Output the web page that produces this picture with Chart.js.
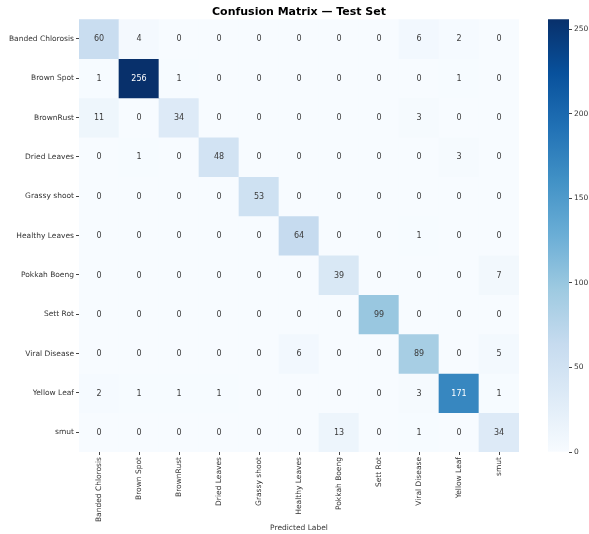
<!DOCTYPE html>
<html><head><meta charset="utf-8">
<script src="https://cdn.jsdelivr.net/npm/chart.js@4/dist/chart.umd.min.js"></script>
<style>
html,body{margin:0;padding:0;background:#fff}
#wrap{position:relative;width:589px;height:534px}
canvas{position:absolute;top:0}
</style>
</head><body>
<div id="wrap">
<canvas id="cm" width="589" height="534" style="left:0"></canvas>
<canvas id="cb" width="69" height="534" style="left:520px"></canvas>
</div>
<script>
// ---- data ----
const classLabels = ["Banded Chlorosis","Brown Spot","BrownRust","Dried Leaves","Grassy shoot","Healthy Leaves","Pokkah Boeng","Sett Rot","Viral Disease","Yellow Leaf","smut"];
const rowBandedChlorosis = [60,4,0,0,0,0,0,0,6,2,0];
const rowBrownSpot       = [1,256,1,0,0,0,0,0,0,1,0];
const rowBrownRust       = [11,0,34,0,0,0,0,0,3,0,0];
const rowDriedLeaves     = [0,1,0,48,0,0,0,0,0,3,0];
const rowGrassyShoot     = [0,0,0,0,53,0,0,0,0,0,0];
const rowHealthyLeaves   = [0,0,0,0,0,64,0,0,1,0,0];
const rowPokkahBoeng     = [0,0,0,0,0,0,39,0,0,0,7];
const rowSettRot         = [0,0,0,0,0,0,0,99,0,0,0];
const rowViralDisease    = [0,0,0,0,0,6,0,0,89,0,5];
const rowYellowLeaf      = [2,1,1,1,0,0,0,0,3,171,1];
const rowSmut            = [0,0,0,0,0,0,13,0,1,0,34];
const colorbarTicks = [0,50,100,150,200,250];

const matrix = [rowBandedChlorosis,rowBrownSpot,rowBrownRust,rowDriedLeaves,rowGrassyShoot,rowHealthyLeaves,rowPokkahBoeng,rowSettRot,rowViralDisease,rowYellowLeaf,rowSmut];
const vmax = Math.max(...matrix.flat());

// matplotlib "Blues"
const blues = ["#f7fbff","#deebf7","#c6dbef","#9ecae1","#6baed6","#4292c6","#2171b5","#08519c","#08306b"];
function hexToRgb(h){return [parseInt(h.slice(1,3),16),parseInt(h.slice(3,5),16),parseInt(h.slice(5,7),16)];}
function cmapRgb(t){
  t=Math.max(0,Math.min(1,t));
  const p=t*(blues.length-1), i=Math.min(Math.floor(p),blues.length-2), f=p-i;
  const a=hexToRgb(blues[i]), b=hexToRgb(blues[i+1]);
  return a.map((v,k)=>Math.round(v+(b[k]-v)*f));
}
function colorFor(v){const c=cmapRgb(v/vmax);return `rgb(${c[0]},${c[1]},${c[2]})`;}
function textColorFor(v){
  const c=cmapRgb(v/vmax).map(x=>{x/=255;return x<=0.03928?x/12.92:Math.pow((x+0.055)/1.055,2.4);});
  const lum=0.2126*c[0]+0.7152*c[1]+0.0722*c[2];
  return lum<0.408?'#ffffff':'#3a3a3a';
}

const FONT='"DejaVu Sans", "Liberation Sans", sans-serif';
Chart.defaults.font.family=FONT;
Chart.defaults.color='#333';

const annot={id:'annot',afterDatasetsDraw(chart){
  const ctx=chart.ctx;ctx.save();
  ctx.font='8px '+FONT;ctx.textAlign='center';ctx.textBaseline='middle';
  chart.data.datasets.forEach((ds,di)=>{
    const meta=chart.getDatasetMeta(di);
    meta.data.forEach((el,j)=>{
      const v=ds.values[j];const c=el.getCenterPoint();
      ctx.fillStyle=textColorFor(v);ctx.fillText(String(v),c.x,c.y+0.5);
    });
  });
  ctx.restore();
}};

const datasets=matrix.map((row,i)=>({
  label:classLabels[i],
  data:row.map(()=>[i,i+1]),
  values:row,
  backgroundColor:row.map(colorFor),
  borderWidth:0,
  grouped:false,
  barPercentage:1,
  categoryPercentage:1
}));

new Chart(document.getElementById('cm'),{
  type:'bar',
  data:{labels:classLabels,datasets},
  plugins:[annot],
  options:{
    responsive:false,animation:false,devicePixelRatio:1,
    layout:{padding:{left:0,right:70,top:0,bottom:0}},
    plugins:{
      legend:{display:false},tooltip:{enabled:false},
      title:{display:true,text:'Confusion Matrix — Test Set',fullSize:false,color:'#000',
        font:{size:11,weight:'bold',family:FONT},padding:{top:6,bottom:0}}
    },
    scales:{
      x:{type:'category',offset:true,
        grid:{offset:false,drawOnChartArea:false,drawTicks:true,tickLength:3,color:'#444'},
        border:{display:false},
        ticks:{autoSkip:false,minRotation:90,maxRotation:90,padding:2,font:{size:7.5},color:'#333'},
        title:{display:true,text:'Predicted Label',font:{size:7.5},color:'#333',padding:{top:0,bottom:1}},
        afterFit(s){s.height=82;}
      },
      y:{type:'linear',min:0,max:11,reverse:true,
        afterBuildTicks(s){s.ticks=classLabels.map((_,i)=>({value:i+0.5}));},
        grid:{drawOnChartArea:false,drawTicks:true,tickLength:3,color:'#444'},
        border:{display:false},
        ticks:{autoSkip:false,padding:2,font:{size:7.5},color:'#333',callback:(v)=>classLabels[Math.floor(v)]},
        title:{display:true,text:'True Label',font:{size:7.5},color:'#555',padding:{top:-7.5,bottom:0}},
        afterFit(s){s.width=79;}
      }
    }
  }
});

// ---- colorbar ----
let grad=null,gradKey='';
function gradientFill(ctx){
  const ch=ctx.chart, a=ch.chartArea;
  if(!a) return blues[4];
  const key=a.top+'_'+a.bottom;
  if(grad&&gradKey===key) return grad;
  const g=ch.ctx.createLinearGradient(0,a.bottom,0,a.top);
  blues.forEach((c,i)=>g.addColorStop(i/(blues.length-1),c));
  grad=g;gradKey=key;return g;
}
new Chart(document.getElementById('cb'),{
  type:'bar',
  data:{labels:[''],datasets:[{data:[[0,vmax]],backgroundColor:gradientFill,borderWidth:0,barPercentage:1,categoryPercentage:1}]},
  options:{
    responsive:false,animation:false,devicePixelRatio:1,
    layout:{padding:{left:28,right:0,top:19.2,bottom:82}},
    plugins:{legend:{display:false},tooltip:{enabled:false}},
    scales:{
      x:{display:false},
      y:{position:'right',min:0,max:vmax,
        afterBuildTicks(s){s.ticks=colorbarTicks.map(v=>({value:v}));},
        grid:{drawOnChartArea:false,drawTicks:true,tickLength:3,color:'#444'},
        border:{display:false},
        ticks:{padding:2,font:{size:7.5},color:'#333'},
        afterFit(s){s.width=20;}
      }
    }
  }
});
</script>
</body></html>
